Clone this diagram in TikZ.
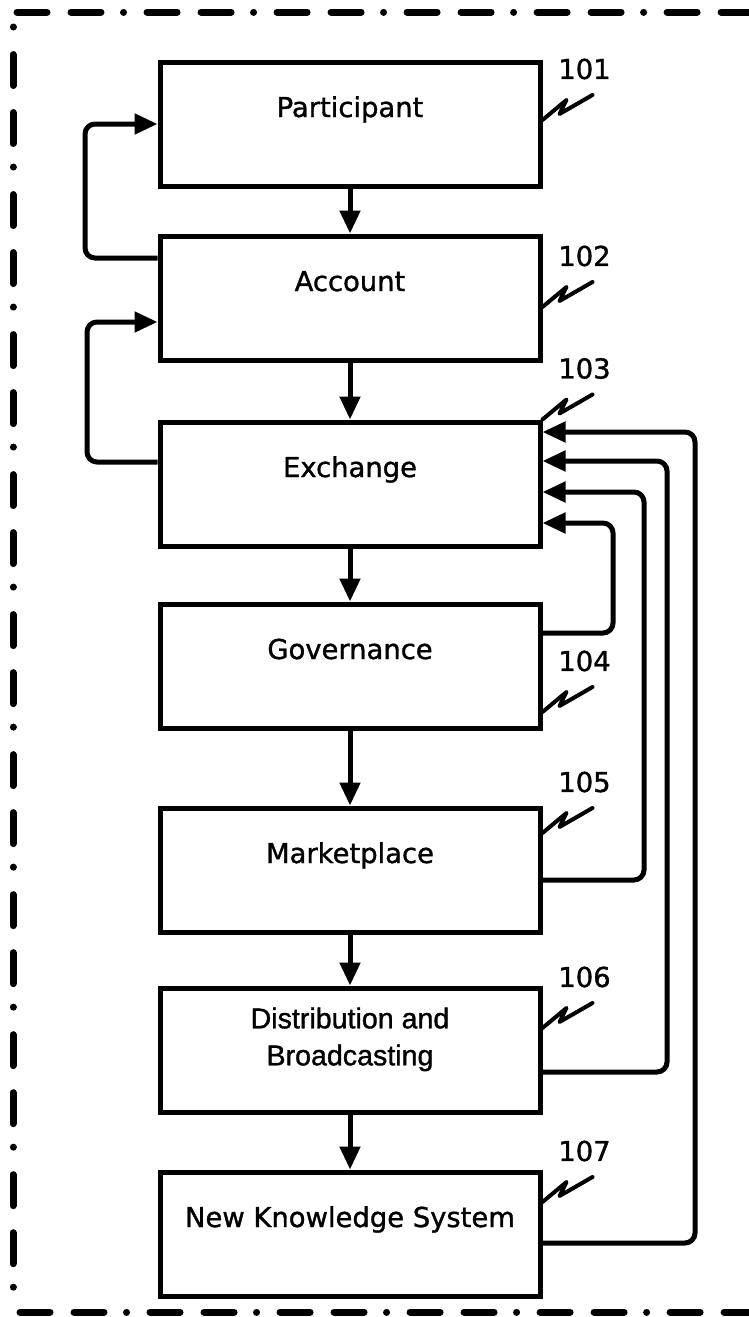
\documentclass[tikz,border=0pt]{standalone}
\usepackage{fontspec}
\setmainfont{DejaVu Sans}[FakeBold=1.2]
\newfontfamily\arialfont{Liberation Sans}[FakeBold=1.2]
\usetikzlibrary{positioning,arrows.meta}
\newcommand{\refmark}[3]{\draw[lead] (#1) -- ++(24,-20) -- ++(-7,14) -- ++(33,-19)
    node[refnum,xshift=-4pt,yshift=13pt] (#2) {#3};}
\newcommand{\twoline}[2]{\begin{tabular}{@{}c@{}}#1\\#2\end{tabular}}

\begin{document}
\begin{tikzpicture}[x=0.5pt,y=-0.5pt]
    \tikzset{blk/.style={draw, line width=2.5pt, minimum width=190pt, minimum height=62pt, inner sep=0pt,
                         font=\fontsize{13.7}{16}\selectfont, text height=10pt, text depth=17pt},
             flow/.style={line width=2.5pt, rounded corners=5pt, -{Triangle[width=10pt,length=11.5pt]}},
             lead/.style={line width=2pt, line join=round, line cap=round},
             refnum/.style={font=\fontsize{13.7}{16}\selectfont, inner sep=0pt},
             frame/.style={line width=3.5pt, line cap=round}}
    \useasboundingbox (0,0) rectangle (749,1317);
    \draw[frame, dash pattern=on 15pt off 12pt on 15pt off 11.25pt on 0.01pt off 11.75pt] (17,12) -- (760,12);
    \draw[frame, dash pattern=on 0.01pt off 13.75pt on 15.5pt off 13.5pt on 15.5pt off 11.75pt] (13,27) -- (13,1300);
    \draw[frame, dash pattern=on 15pt off 12pt on 15pt off 11.25pt on 0.01pt off 11.75pt] (20,1312) -- (760,1312);

    \node[blk] (part) at (350,124) {Participant};
    \node[blk, below=22.5pt of part] (acct) {Account};
    \node[blk, below=28.5pt of acct] (exch) {Exchange};
    \node[blk, below=26.5pt of exch] (gov) {Governance};
    \node[blk, below=37.5pt of gov] (mkt) {Marketplace};
    \node[blk, below=25.5pt of mkt, font=\arialfont\fontsize{14.3}{18.5}\selectfont,
          text height=20pt, text depth=23.4pt] (dist) {\twoline{Distribution and}{Broadcasting}};
    \node[blk, below=27.5pt of dist] (nks) {New Knowledge System};

    \draw[flow] (part) -- (acct);
    \draw[flow] (acct) -- (exch);
    \draw[flow] (exch) -- (gov);
    \draw[flow] (gov) -- (mkt);
    \draw[flow] (mkt) -- (dist);
    \draw[flow] (dist) -- (nks);

    \draw[flow] (acct.west |- 0,258) -| (85,124) -- (part.west |- 0,124);
    \draw[flow] (exch.west |- 0,462) -| (87,322) -- (acct.west |- 0,322);

    \draw[flow] (gov.east |- 0,633) -| (613,523) -- (exch.east |- 0,523);
    \draw[flow] (mkt.east |- 0,880) -| (644,492) -- (exch.east |- 0,492);
    \draw[flow] (dist.east |- 0,1072) -| (667,461) -- (exch.east |- 0,461);
    \draw[flow] (nks.east |- 0,1243) -| (695,432) -- (exch.east |- 0,432);

    \refmark{part.east |- 0,120}{r101}{101}
    \refmark{acct.east |- 0,307}{r102}{102}
    \refmark{exch.north east}{r103}{103}
    \refmark{gov.east |- 0,712}{r104}{104}
    \refmark{mkt.east |- 0,833}{r105}{105}
    \refmark{dist.east |- 0,1028}{r106}{106}
    \refmark{nks.east |- 0,1202}{r107}{107}
\end{tikzpicture}
\end{document}
